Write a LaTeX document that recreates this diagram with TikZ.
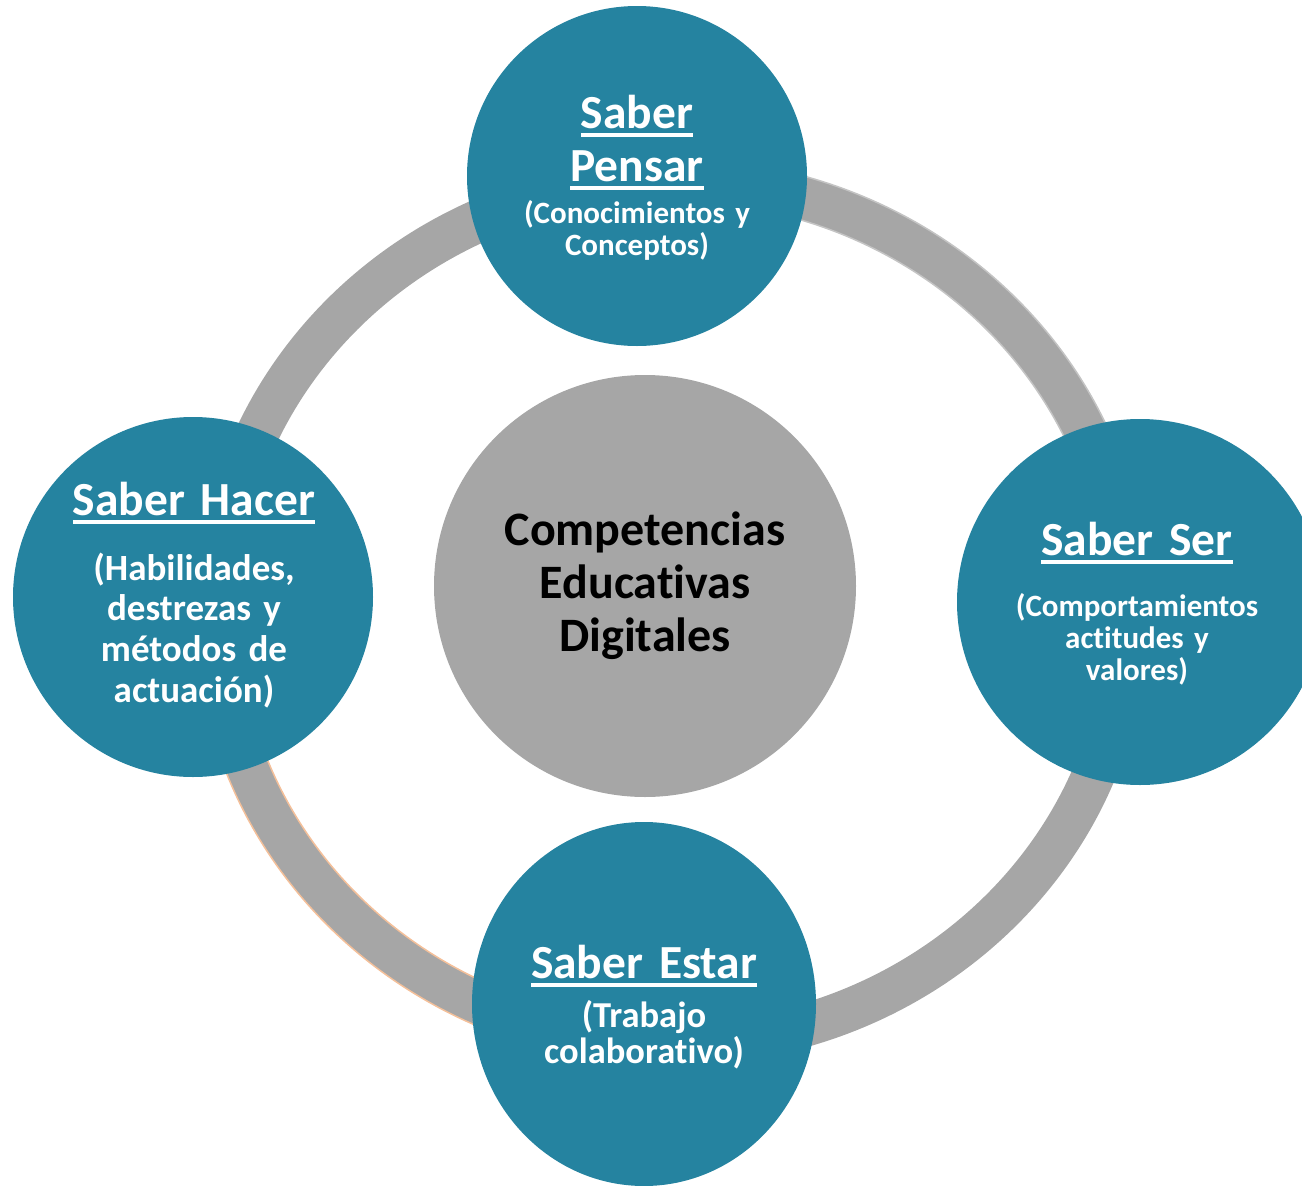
\documentclass[tikz,border=0pt]{standalone}
\usepackage{fontspec}
\setmainfont{Carlito}[WordSpace=0.8, Ligatures=NoCommon]
\usetikzlibrary{shapes.geometric}

\definecolor{petrol}{HTML}{2583A0}
\definecolor{ringgray}{HTML}{A6A6A6}
\definecolor{rimlight}{HTML}{C4C4C4}
\definecolor{rimpeach}{HTML}{F4C09A}

\newcommand\undl[1]{\leavevmode\setbox0\hbox{#1}\rlap{\rule[-8.5pt]{\wd0}{3.3pt}}\box0}

\begin{document}
\begin{tikzpicture}[x=1pt, y=-1pt, c/.style={circle, fill=petrol, inner sep=0pt}, r/.style={line width=1.5pt}, t/.style={text=white, font=\bfseries\fontsize{47.5}{53}\selectfont, anchor=base, inner sep=0pt, align=center, text width=340pt}, s/.style 2 args={text=white, font=\bfseries\fontsize{#1}{#2}\selectfont, anchor=base, inner sep=0pt, align=center, text width=340pt}, m/.style={text=black, font=\bfseries\fontsize{48}{53.3}\selectfont, anchor=base, inner sep=0pt, align=center, text width=400pt}]
		\useasboundingbox (0,0) rectangle (1302,1186);
		\clip (0,0) rectangle (1302,1186);

		\node[ellipse, draw=ringgray, line width=43pt, outer sep=0pt, inner sep=0pt, minimum width=910pt, minimum height=864pt] (ring) at (672,612) {};
		\draw[r, rimlight] ([yshift=21.5pt]ring.north) arc[start angle=90, end angle=0, x radius=476.5pt, y radius=453.5pt];
		\draw[r, rimlight] ([yshift=-21.5pt]ring.north) arc[start angle=90, end angle=0, x radius=433.5pt, y radius=410.5pt];
		\draw[r, rimpeach] ([xshift=-21.5pt]ring.west) arc[start angle=180, end angle=270, x radius=476.5pt, y radius=453.5pt];
		\draw[r, rimpeach] ([xshift=21.5pt]ring.west) arc[start angle=180, end angle=270, x radius=433.5pt, y radius=410.5pt];

		\node[c, minimum size=340pt] (pensar) at (637,176) {};
		\node[c, minimum size=360pt] (hacer) at (193,597) {};
		\node[c, minimum size=366pt] (ser) at (1140,602) {};
		\node[c, ellipse, minimum width=344pt, minimum height=364pt] (estar) at (644,1004) {};
		\node[circle, fill=ringgray, inner sep=0pt, minimum size=422pt] (comp) at (645,586) {};

		\node[t] (pensar_t) at (637,128) {\undl{Saber}\\\undl{Pensar}};
		\node[s={31}{32}] (pensar_s) at (637,223) {(Conocimientos y\\Conceptos)};
		\node[t] (hacer_t) at (194,515) {\undl{Saber Hacer}};
		\node[s={37}{40.7}] (hacer_s) at (194,580) {(Habilidades,\\destrezas y\\métodos de\\actuación)};
		\node[t] (ser_t) at (1137,555) {\undl{Saber Ser}};
		\node[s={31}{32}] (ser_s) at (1137,616) {(Comportamientos\\actitudes y\\valores)};
		\node[t] (estar_t) at (644,978) {\undl{Saber Estar}};
		\node[s={36.5}{36}] (estar_s) at (644,1027) {(Trabajo\\colaborativo)};
		\node[m] (comp_t) at (645,545) {Competencias\\Educativas\\Digitales};
	\end{tikzpicture}
\end{document}
